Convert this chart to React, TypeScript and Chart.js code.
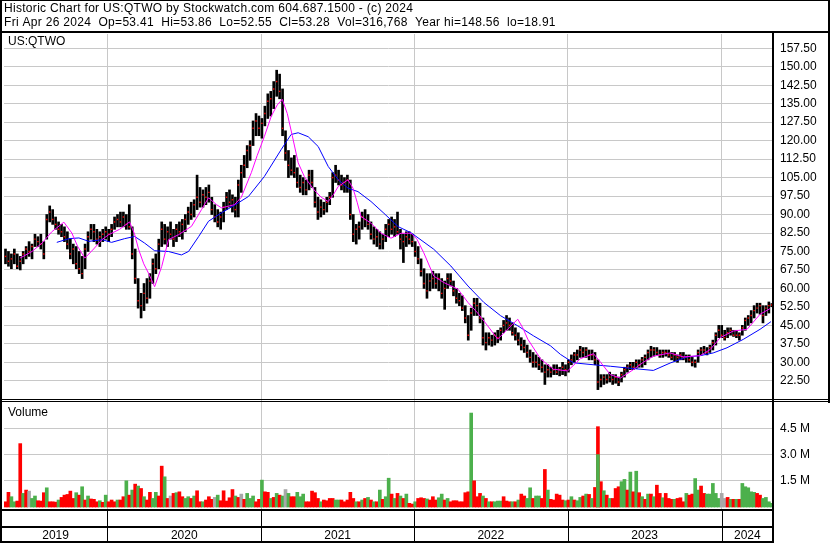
import React, { useEffect, useRef } from 'react';
import { Chart, registerables } from 'chart.js';

Chart.register(...registerables);

// ---------- text ----------
const headerLine1 = 'Historic Chart for US:QTWO by Stockwatch.com 604.687.1500 - (c) 2024';
const headerLine2 = 'Fri Apr 26 2024  Op=53.41  Hi=53.86  Lo=52.55  Cl=53.28  Vol=316,768  Year hi=148.56  lo=18.91';
const symbolLabel = 'US:QTWO';
const volumeLabel = 'Volume';

// ---------- axes ----------
const yearLabels = ['2019', '2020', '2021', '2022', '2023', '2024'];
// week index (from week of Apr 29 2019) where each new year starts
const yearStartWeeks = [34.5, 86.8, 138.6, 190.7, 243.0];
const priceTicks = [22.5, 30, 37.5, 45, 52.5, 60, 67.5, 75, 82.5, 90, 97.5, 105, 112.5, 120, 127.5, 135, 142.5, 150, 157.5];
const volumeTicks = [1.5, 3.0, 4.5];

// ---------- weekly price bars ----------
const weekHigh = [
  76, 75, 74, 76, 74, 73, 75, 77, 79, 78,
  82, 81, 82, 79, 90, 93.5, 92, 89, 87, 86,
  85, 83, 80, 78, 77, 75, 73, 78, 83, 86,
  86, 84, 83, 84, 85, 84, 86, 89, 90, 91,
  91, 90, 94, 85, 76, 64, 58, 62, 64, 66,
  72, 74, 80, 87, 86, 85, 87, 84, 86, 87,
  88, 90, 93, 95, 96, 106, 101, 100, 101, 102,
  97, 94, 92, 91, 95, 99, 100, 98, 97, 104,
  110, 114, 118, 120, 128, 131, 130, 129, 134, 139,
  140, 144, 148.6, 147, 141, 124, 116, 113, 114, 109,
  106, 105, 104, 108, 108, 101, 97, 96, 95, 97,
  99, 107, 110, 108, 106, 105, 106, 104, 90, 86,
  87, 91, 92, 90, 87, 85, 84, 83, 82, 86,
  88, 89, 88, 91, 84, 82, 83, 83, 82, 79,
  77, 72, 68, 66, 66, 67, 66, 66, 64, 63,
  66, 66, 63, 60, 58, 57, 53, 49, 52, 56,
  56, 54, 48, 42, 42, 41, 42, 43, 44, 47,
  49, 48, 46, 44, 42, 40, 39, 37, 35, 34,
  33, 32, 31, 29, 29, 28, 29, 29, 28, 30,
  29, 31, 33, 34, 35, 36.5, 36, 36, 35, 35,
  34, 31, 25, 25, 25, 26, 25, 25, 24, 26,
  28, 29, 30, 30, 31, 31, 32, 33, 35, 36.5,
  36, 36, 35, 35, 35, 35, 34, 34, 33, 34,
  34, 33, 33, 32, 31, 35, 36, 36.5, 36, 37,
  39, 42, 45, 45, 43, 44, 44, 43, 43, 42,
  45, 48, 49, 51, 53, 54, 54, 53, 53, 54.5, 53.86,
];
const weekLow = [
  70, 69, 68, 70, 68, 67.5, 70, 72, 73, 72,
  77, 77, 76, 72, 80, 87, 86, 84, 82, 81,
  79, 76, 72, 70, 68, 66, 64, 68, 75, 80,
  79, 78, 77, 79, 80, 79, 81, 84, 85, 85,
  85, 84, 84, 72, 62, 52, 48, 51, 54, 56,
  62, 66, 68, 77, 78, 77, 80, 77, 79, 81,
  80, 83, 86, 88, 89, 92, 93, 93, 94, 95,
  90, 87, 85, 84, 87, 92, 93, 91, 89, 89,
  99, 105, 109, 112, 118, 122, 122, 121, 126, 129,
  130, 133, 138, 137, 122, 112, 105, 106, 105, 101,
  99, 98, 98, 100, 101, 93, 88, 89, 90, 91,
  94, 97, 103, 102, 100, 99, 99, 88, 79, 78,
  80, 84, 85, 84, 80, 78, 77, 76, 76, 79,
  81, 82, 81, 82, 76, 70.5, 77, 78, 77, 73,
  70, 65, 60, 56, 59, 60, 60, 59, 56, 51.5,
  60, 61, 57, 54, 53, 51, 46, 39, 43, 49,
  49, 46, 37, 35, 37, 36.5, 37, 38, 39, 42,
  43, 43, 41, 39, 37, 35, 34, 32, 30, 28,
  28, 27, 26, 21, 24, 24, 25, 25, 24.5, 25,
  24.5, 26, 29, 30, 31, 32, 32, 32, 31, 31,
  29, 18.91, 20, 21, 21.5, 22, 21, 21.5, 20.5, 22,
  24, 26, 27, 27, 27.5, 28, 28, 29, 31, 32,
  32.5, 33, 32, 32, 32.5, 32, 31, 30.5, 30, 31,
  31, 30, 30, 28.5, 28, 30, 33, 33.5, 33, 34,
  35, 37, 40, 40, 39, 40, 41, 40.5, 40, 39,
  41, 43, 45, 46, 48, 50, 49.5, 46, 49, 50, 52.55,
];
const weekClose = [
  73, 71, 72, 74, 69, 71, 74, 76, 75, 77,
  80, 79, 78, 74, 88, 91, 88, 86, 84, 83,
  81, 78, 74, 76, 70, 68, 66, 76, 81, 84,
  83, 80, 81, 82, 83, 82, 84, 87, 88, 87,
  89, 86, 85, 74, 64, 55, 53, 58, 56, 63,
  70, 68, 78, 84, 80, 83, 82, 80, 84, 83,
  86, 88, 91, 90, 94, 97, 95, 98, 97, 99,
  92, 89, 87, 89, 93, 97, 95, 96, 92, 102,
  107, 110, 116, 118, 125, 128, 125, 127, 131, 136,
  137, 141, 144, 140, 125, 115, 110, 108, 107, 103,
  101, 103, 100, 106, 103, 95, 91, 93, 92, 95,
  97, 105, 106, 104, 102, 103, 104, 90, 82, 84,
  85, 89, 88, 86, 82, 80, 81, 78, 80, 84,
  86, 84, 85, 83, 80, 79, 81, 80, 79, 75,
  72, 67, 62, 59, 63, 64, 62, 64, 58, 60,
  64, 63, 59, 56, 55, 52, 48, 41, 50, 54,
  53, 48, 40, 38, 40, 39, 41, 40, 43, 45,
  46, 45, 42, 41, 39, 37, 36, 34, 32, 30,
  30, 29, 28, 26, 27, 26, 27, 26, 27, 28,
  27, 30, 31, 33, 33, 35, 34, 35, 33, 33,
  31, 22, 23, 24, 23, 24, 23, 24, 22, 25,
  27, 28, 29, 28, 30, 29, 31, 32, 34, 35,
  35, 34, 33, 34, 34, 33, 32, 33, 32, 33,
  32, 32, 31, 30, 30, 34, 35, 35, 34, 36,
  38, 41, 43, 41, 40, 42, 43, 41, 41, 41,
  44, 47, 48, 49, 51, 52, 53, 49, 52, 53, 53.28,
];

// ---------- weekly volume (millions) ----------
const weekVolume = [
  0.30, 0.84, 0.59, 0.30, 0.34, 3.63, 0.78, 0.97, 0.91, 0.49,
  0.63, 0.36, 0.34, 0.82, 1.10, 0.30, 0.30, 0.28, 0.40, 0.55,
  0.68, 0.72, 0.91, 0.49, 0.82, 0.68, 1.16, 0.40, 0.63, 0.46,
  0.44, 0.30, 0.36, 0.27, 0.68, 0.30, 0.40, 0.30, 0.40, 0.40,
  0.59, 1.50, 0.68, 0.97, 1.31, 1.20, 1.06, 0.59, 0.40, 0.84,
  0.49, 0.84, 0.63, 2.34, 1.73, 0.49, 0.63, 0.78, 0.82, 0.87,
  0.59, 0.49, 0.59, 0.49, 0.63, 0.93, 0.30, 0.30, 0.40, 0.59,
  0.44, 0.55, 0.68, 0.36, 0.93, 0.34, 0.53, 1.00, 0.63, 0.55,
  0.74, 0.44, 0.78, 0.49, 0.63, 0.30, 0.44, 1.54, 0.87, 0.84,
  0.49, 0.55, 0.78, 0.68, 0.63, 1.00, 0.78, 0.59, 0.59, 0.84,
  0.59, 0.74, 0.30, 0.30, 0.91, 0.82, 0.49, 0.30, 0.40, 0.36,
  0.49, 0.49, 0.40, 0.40, 0.40, 0.30, 0.40, 0.84, 0.49, 0.30,
  0.30, 0.40, 0.49, 0.55, 0.40, 0.30, 0.30, 0.97, 0.44, 0.59,
  1.65, 0.74, 0.49, 0.78, 0.63, 0.49, 0.74, 0.21, 0.17, 0.30,
  0.49, 0.53, 0.49, 0.46, 0.40, 0.59, 0.40, 0.53, 0.74, 0.40,
  0.49, 0.30, 0.36, 0.36, 0.30, 0.30, 0.82, 0.87, 5.38, 1.50,
  0.59, 0.78, 0.63, 0.49, 0.30, 0.30, 0.30, 0.34, 0.34, 0.59,
  0.34, 0.30, 0.30, 0.30, 0.40, 0.74, 0.63, 0.49, 1.10, 0.49,
  0.63, 0.63, 0.49, 2.15, 0.97, 0.44, 0.40, 0.74, 0.68, 0.40,
  0.36, 0.40, 0.59, 0.40, 0.36, 0.55, 0.63, 0.74, 0.72, 0.49,
  1.12, 4.60, 1.45, 0.93, 0.68, 0.49, 0.49, 1.06, 1.16, 1.45,
  1.58, 0.97, 2.00, 0.87, 2.05, 0.82, 0.59, 0.44, 0.74, 0.74,
  0.59, 1.25, 0.78, 0.53, 0.78, 0.49, 0.44, 0.44, 0.49, 0.53,
  0.30, 0.78, 0.68, 0.74, 1.63, 0.97, 1.20, 0.78, 0.74, 0.74,
  1.35, 0.78, 0.49, 0.78, 0.49, 0.55, 0.44, 0.44, 0.44, 0.44,
  1.35, 1.16, 1.10, 0.87, 0.84, 0.78, 0.68, 0.49, 0.55, 0.30, 0.21,
];
// r = down week, g = up week, a = unchanged
const weekDirection =
  'rrggrrgrag' + 'grrrgrrrgr' + 'rrrrgrgrgr' + 'rrgrgrrrgr' + 'rgrgrgrgrr' +
  'ggrrgrargr' + 'rggrgrrgrr' + 'ragrrrrrgr' + 'argggrrgrr' + 'grgrgagrrg' +
  'ggrrrrrgrr' + 'rrggrrrrrg' + 'rgrgrgrgrg' + 'grgrgrgrrg' + 'rrrgrrrggr' +
  'grrrrrrrgr' + 'rrgrgrgggr' + 'rrgrgrrggr' + 'ggrrgrrrrr' + 'grgrggrgrg' +
  'rrrgrgrrrg' + 'grgrgrgrgr' + 'grrgrrrgrr' + 'rgrrggrrgg' + 'gggaargrgr' +
  'gggggrrgggg';
// up-volume portion of the split spike week
const overlayWeeks = [201];
const overlayVolume = [3.0];

// ---------- moving averages ----------
const fastMaWeek = [
  4.9, 9.0, 12.4, 15.7, 19.8, 22.5, 24.5, 26.9, 29.9, 32.7, 35.0, 38.7, 42.1, 43.8, 45.2, 46.9, 48.6,
  50.6, 53.0, 55.3, 58.7, 63.1, 66.5, 68.9, 71.6, 73.3, 77.7, 80.0, 83.4, 85.4, 87.8, 90.2, 92.2, 93.9,
  95.6, 97.3, 99.3, 101.4, 104.7, 107.1, 109.5, 111.2, 112.9, 116.2, 117.9, 119.3, 120.6, 124.0, 127.4,
  130.8, 134.2, 137.6, 139.6, 141.9, 145.3, 148.7, 153.5, 156.9, 160.2, 163.6, 167.0, 170.4, 173.8,
  175.5, 177.2, 181.6, 185.9, 190.7, 195.1, 199.5, 201.9, 205.2, 208.6, 213.0, 216.4, 219.8, 225.5,
  229.9, 235.7, 239.1, 242.5, 246.9, 251.6, 256.0, 259.4,
];
const fastMaValue = [
  72.3, 75, 78.4, 83, 86.9, 82.5, 77, 72.3, 76, 79.8, 81.8, 84, 87, 82, 75.7, 70, 66,
  60.7, 68.9, 79.8, 81.8, 85.2, 92, 96.8, 94, 92.7, 94, 97, 107, 114, 121.6, 130, 134.5, 136.8,
  131, 122, 111, 105.4, 100, 97, 95.3, 98, 101.4, 104.1, 100.7, 95, 89.2, 86.5, 82.4,
  80.4, 82.4, 82.4, 80, 74.5, 65, 62.4, 59.7, 54.3, 50, 44.8, 39.4, 43.5, 47.5,
  44, 39.4, 31.3, 27.2, 26.5, 31.5, 33.5, 30, 25, 23.6, 27, 30, 32.5, 33.8,
  32.2, 32.7, 35.2, 40, 42.7, 43.4, 49.5, 51.8,
];
const slowMaWeek = [
  17.4, 21.5, 24.9, 28.3, 32.7, 36.0, 40.4, 43.8, 47.2, 50.6, 55.3, 59.7, 62.1, 65.5, 68.9, 73.3,
  77.7, 82.4, 87.8, 93.6, 96.9, 99.3, 102.7, 106.1, 109.5, 112.9, 116.2, 119.6, 124.0, 128.4, 133.2,
  137.6, 145.3, 151.1, 156.9, 162.3, 168.0, 173.8, 179.2, 184.9, 188.3, 192.7, 199.5, 205.2, 211.0,
  219.8, 225.5, 231.3, 235.7, 240.1, 244.8, 250.3, 256.0, 259.7,
];
const slowMaValue = [
  78.7, 80.2, 80.5, 79.1, 79.8, 78.7, 80.2, 81.1, 78.4, 75.3, 75, 73.6, 75, 81, 87.3, 90.7,
  93.8, 97.3, 105.4, 116.5, 122.5, 123.2, 121.6, 117.6, 109.5, 104.1, 100.7, 99.3, 95.3, 90.5, 85.1,
  82.6, 75.9, 69.1, 61, 54.3, 48.9, 44.8, 40.7, 36.7, 33.2, 29.8, 29, 28.4, 27.7,
  26.7, 29.7, 32.2, 32.7, 33.8, 35.9, 39.3, 43.4, 46.5,
];

const FONT = '"Liberation Sans", Arial, Helvetica, sans-serif';
const W = 830;
const H = 543;
const dirColor: Record<string, string> = { r: '#ff0000', g: '#4cb04c', a: '#a8a8a8' };

const framePlugin = {
  id: 'stockwatchFrame',
  afterDraw(chart: any) {
    const ctx = chart.ctx as CanvasRenderingContext2D;
    const xs = chart.scales.x;
    const ys = chart.scales.y;
    const ca = chart.chartArea;
    const right = Math.round(ca.right);
    const bottom = Math.round(ca.bottom);
    const split = Math.round(ys.bottom);
    ctx.save();
    ctx.fillStyle = '#000';
    ctx.font = `12px ${FONT}`;
    ctx.textBaseline = 'middle';
    ctx.textAlign = 'left';
    const anyCtx = ctx as any;
    if ('letterSpacing' in anyCtx) anyCtx.letterSpacing = '0.3px';
    ctx.fillText(headerLine1, 4, 9);
    ctx.fillText(headerLine2, 4, 23);
    if ('letterSpacing' in anyCtx) anyCtx.letterSpacing = '0px';

    // frame lines
    ctx.fillRect(0, 0, W, 1);
    ctx.fillRect(0, 31, W, 2);
    ctx.fillRect(0, 0, 2, H);
    ctx.fillRect(W - 2, 0, 2, split + 2);
    ctx.fillRect(right - 1, 32, 2, H - 32);
    ctx.fillRect(0, split - 2, W, 1);
    ctx.fillRect(0, split, W, 1);
    ctx.fillRect(0, bottom, right, 2);
    ctx.fillRect(0, bottom + 17, right, 2);
    ctx.fillRect(0, H - 2, right, 2);

    // year separators and labels in the date strip
    const edges = [ca.left, ...yearStartWeeks.map((w) => xs.getPixelForValue(w)), ca.right];
    yearStartWeeks.forEach((w) => {
      const px = Math.round(xs.getPixelForValue(w));
      ctx.fillRect(px, bottom, 1, H - bottom);
    });
    ctx.textAlign = 'center';
    yearLabels.forEach((lab, i) => {
      const cx = (edges[i] + edges[i + 1]) / 2;
      ctx.fillText(lab, cx, bottom + 27);
    });

    ctx.textAlign = 'left';
    ctx.fillText(symbolLabel, 8, ca.top + 8);
    ctx.fillText(volumeLabel, 8, split + 12);
    ctx.restore();
  },
};

export default function App() {
  const canvasRef = useRef<HTMLCanvasElement | null>(null);

  useEffect(() => {
    const canvas = canvasRef.current;
    if (!canvas) return;
    document.body.style.margin = '0';

    const priceBars = weekHigh.map((h, i) => ({ x: i, y: [weekLow[i], h] }));
    const closeDots = weekClose.map((c, i) => ({ x: i, y: c }));
    const volBars = weekVolume.map((v, i) => ({ x: i, y: v }));
    const volColors = weekDirection.split('').map((c) => dirColor[c]);
    const overlay = overlayWeeks.map((w, i) => ({ x: w, y: overlayVolume[i] }));
    const fast = fastMaWeek.map((w, i) => ({ x: w, y: fastMaValue[i] }));
    const slow = slowMaWeek.map((w, i) => ({ x: w, y: slowMaValue[i] }));

    const tickFont = { family: FONT, size: 12 };
    const gridColor = '#c8c8c8';

    const chart = new Chart(canvas, {
      type: 'bar',
      data: {
        datasets: [
          {
            type: 'line', data: fast as any, yAxisID: 'y', borderColor: '#ff00ff', borderWidth: 1,
            pointRadius: 0, tension: 0, order: 0,
          } as any,
          {
            type: 'line', data: slow as any, yAxisID: 'y', borderColor: '#0000ff', borderWidth: 1,
            pointRadius: 0, tension: 0, order: 0,
          } as any,
          {
            type: 'line', data: closeDots as any, yAxisID: 'y', showLine: false, pointStyle: 'rect',
            pointRadius: 1.0, pointBackgroundColor: '#ff0000', pointBorderWidth: 0, order: 1,
          } as any,
          {
            type: 'bar', data: priceBars as any, yAxisID: 'y', backgroundColor: '#000000',
            barThickness: 2, grouped: false, order: 2,
          } as any,
          {
            type: 'bar', data: overlay as any, yAxisID: 'yv', backgroundColor: dirColor.g,
            barThickness: 3, grouped: false, order: 3,
          } as any,
          {
            type: 'bar', data: volBars as any, yAxisID: 'yv', backgroundColor: volColors,
            barThickness: 3, grouped: false, order: 4,
          } as any,
        ],
      },
      options: {
        animation: false,
        responsive: false,
        maintainAspectRatio: false,
        layout: { padding: { top: 34, left: 2, right: 0, bottom: 34 } },
        plugins: { legend: { display: false }, tooltip: { enabled: false } },
        scales: {
          x: {
            type: 'linear', min: -0.51, max: 260.4, offset: false,
            grid: { color: gridColor, drawTicks: false, offset: false },
            border: { display: false },
            ticks: { display: false },
            afterBuildTicks: (s: any) => { s.ticks = yearStartWeeks.map((v) => ({ value: v })); },
            afterFit: (s: any) => { s.height = 0; },
          },
          y: {
            type: 'linear', position: 'right', stack: 'panels', stackWeight: 367,
            min: 14.29, max: 163.3,
            grid: { color: gridColor, drawTicks: false },
            border: { display: false },
            ticks: {
              font: tickFont, color: '#000', padding: 7, autoSkip: false,
              callback: (v: any) => Number(v).toFixed(2),
            },
            afterBuildTicks: (s: any) => { s.ticks = priceTicks.map((v) => ({ value: v })); },
            afterFit: (s: any) => { s.width = 57; },
          },
          yv: {
            type: 'linear', position: 'right', stack: 'panels', stackWeight: 108,
            min: -0.114, max: 6.07,
            grid: { color: gridColor, drawTicks: false },
            border: { display: false },
            ticks: {
              font: tickFont, color: '#000', padding: 7, autoSkip: false,
              callback: (v: any) => Number(v).toFixed(1) + ' M',
            },
            afterBuildTicks: (s: any) => { s.ticks = volumeTicks.map((v) => ({ value: v })); },
            afterFit: (s: any) => { s.width = 57; },
          },
        },
      } as any,
      plugins: [framePlugin],
    });

    return () => chart.destroy();
  }, []);

  return (
    <div style={{ position: 'fixed', left: 0, top: 0, width: W, height: H, background: '#fff' }}>
      <canvas ref={canvasRef} width={W} height={H} style={{ display: 'block', width: W, height: H }} />
    </div>
  );
}
